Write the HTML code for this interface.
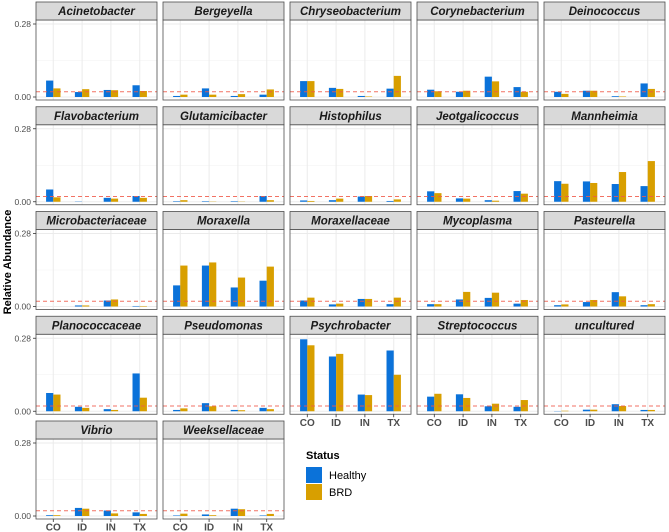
<!DOCTYPE html>
<html><head><meta charset="utf-8">
<style>
html,body{margin:0;padding:0;background:#fff;}
svg{display:block;font-family:"Liberation Sans",Arial,sans-serif;}
</style></head>
<body>
<svg id="chart" width="669" height="532" viewBox="0 0 669 532"></svg>
<script>
const taxa = ["Acinetobacter","Bergeyella","Chryseobacterium","Corynebacterium","Deinococcus",
"Flavobacterium","Glutamicibacter","Histophilus","Jeotgalicoccus","Mannheimia",
"Microbacteriaceae","Moraxella","Moraxellaceae","Mycoplasma","Pasteurella",
"Planococcaceae","Pseudomonas","Psychrobacter","Streptococcus","uncultured",
"Vibrio","Weeksellaceae"];
const states = ["CO","ID","IN","TX"];
const healthy = [
[0.063,0.019,0.027,0.045],[0.004,0.033,0.004,0.009],[0.061,0.035,0.004,0.032],[0.028,0.020,0.078,0.038],[0.020,0.024,0.003,0.052],
[0.047,0.001,0.015,0.022],[0.002,0.002,0.002,0.022],[0.005,0.006,0.020,0.003],[0.040,0.013,0.006,0.041],[0.079,0.078,0.068,0.060],
[0.000,0.004,0.023,0.002],[0.081,0.157,0.073,0.099],[0.023,0.008,0.029,0.009],[0.009,0.027,0.033,0.011],[0.005,0.017,0.055,0.005],
[0.070,0.017,0.008,0.145],[0.005,0.031,0.005,0.013],[0.276,0.210,0.064,0.233],[0.056,0.065,0.019,0.017],[0.001,0.006,0.027,0.005],
[0.003,0.031,0.021,0.014],[0.002,0.006,0.028,0.002]];
const brd = [
[0.033,0.030,0.026,0.023],[0.009,0.009,0.011,0.029],[0.061,0.031,0.002,0.081],[0.022,0.024,0.060,0.020],[0.012,0.024,0.002,0.031],
[0.017,0.000,0.012,0.015],[0.006,0.001,0.001,0.006],[0.003,0.012,0.022,0.009],[0.033,0.012,0.004,0.031],[0.069,0.072,0.114,0.156],
[0.000,0.004,0.027,0.002],[0.157,0.169,0.111,0.153],[0.034,0.011,0.029,0.034],[0.009,0.056,0.053,0.025],[0.008,0.025,0.039,0.009],
[0.064,0.013,0.005,0.052],[0.011,0.019,0.004,0.008],[0.253,0.220,0.062,0.140],[0.067,0.051,0.029,0.043],[0.002,0.006,0.020,0.005],
[0.003,0.028,0.010,0.008],[0.009,0.003,0.026,0.008]];
const yTicks = [0, 0.28];
const yTickLabels = ["0.00","0.28"];
const threshold = 0.02;

const NS="http://www.w3.org/2000/svg";
const svg=document.getElementById('chart');
function mk(tag,attrs,parent){const e=document.createElementNS(NS,tag);for(const k in attrs)e.setAttribute(k,attrs[k]);(parent||svg).appendChild(e);return e;}
const colX=[36,163,290,417,544], PW=121, pitch=104.75, STRIP=18, PH=80;
const cBlue="#0b72d9", cGold="#d89f00";
function yScale(top,v){return top+77-v*(73/0.28);}
function xScale(left,i){return left+(0.6+i)*(PW/4.2);}
const unit=PW/4.2, barW=unit*0.25;

taxa.forEach((name,idx)=>{
  const r=Math.floor(idx/5), c=idx%5;
  const left=colX[c], top=2+r*pitch, ptop=top+STRIP;
  const g=mk('g',{});
  
  
  mk('rect',{x:left,y:ptop,width:PW,height:PH,fill:'#fff'},g);
  [0.14].forEach(v=>mk('line',{x1:left,x2:left+PW,y1:yScale(ptop,v),y2:yScale(ptop,v),stroke:'#f2f2f2','stroke-width':0.6},g));
  yTicks.forEach(v=>mk('line',{x1:left,x2:left+PW,y1:yScale(ptop,v),y2:yScale(ptop,v),stroke:'#ebebeb','stroke-width':1},g));
  states.forEach((s,i)=>mk('line',{x1:xScale(left,i),x2:xScale(left,i),y1:ptop,y2:ptop+PH,stroke:'#ebebeb','stroke-width':1},g));
  states.forEach((s,i)=>{
    const cx=xScale(left,i), y0=yScale(ptop,0);
    const hb=mk('rect',{x:cx-barW,y:yScale(ptop,healthy[idx][i]),width:barW,height:Math.max(0,y0-yScale(ptop,healthy[idx][i])),fill:cBlue},g);
    
    
    const bb=mk('rect',{x:cx,y:yScale(ptop,brd[idx][i]),width:barW,height:Math.max(0,y0-yScale(ptop,brd[idx][i])),fill:cGold},g);
    
    
  });
  const th=mk('line',{x1:left,x2:left+PW,y1:yScale(ptop,threshold),y2:yScale(ptop,threshold),stroke:'#f05a4a','stroke-width':1,'stroke-dasharray':'4,3',opacity:0.85},g);
  
  
  mk('rect',{x:left,y:ptop,width:PW,height:PH,fill:'none',stroke:'#4d4d4d','stroke-width':0.8},g);
  mk('rect',{x:left,y:top,width:PW,height:STRIP,fill:'#d9d9d9',stroke:'#4d4d4d','stroke-width':0.8},g);
  const st=mk('text',{x:left+PW/2,y:top+13,'text-anchor':'middle','font-size':'11.5','font-weight':'bold','font-style':'italic',fill:'#1a1a1a'},g);
  st.textContent=name;
  
  
  if(c===0){
    yTicks.forEach((v,k)=>{
      const y=yScale(ptop,v);
      mk('line',{x1:33,x2:36,y1:y,y2:y,stroke:'#333','stroke-width':0.8},g);
      const t=mk('text',{x:31,y:y+3,'text-anchor':'end','font-size':'8.5',fill:'#4d4d4d'},g);
      t.textContent=yTickLabels[k];
      
      
    });
  }
  const isBottom = idx+5>=taxa.length;
  if(isBottom){
    states.forEach((s,i)=>{
      const x=xScale(left,i), yb=ptop+PH;
      mk('line',{x1:x,x2:x,y1:yb,y2:yb+3,stroke:'#333','stroke-width':0.8},g);
      const t=mk('text',{x:x,y:yb+11.5,'text-anchor':'middle','font-size':'10','font-weight':'bold',fill:'#4d4d4d'},g);
      t.textContent=s;
      
      
    });
  }
});
const yt=mk('text',{x:0,y:0,transform:'translate(11,262) rotate(-90)','text-anchor':'middle','font-size':'11','font-weight':'bold',fill:'#000'});
yt.textContent='Relative Abundance';


const lg=mk('g',{});


const lt=mk('text',{x:306,y:459,'font-size':'11','font-weight':'bold',fill:'#000'},lg);
lt.textContent='Status';
[['Healthy',cBlue,467],['BRD',cGold,484]].forEach(([lab,col,y])=>{
  const e=mk('g',{},lg);
  
  
  mk('rect',{x:306,y:y,width:16,height:16,fill:col},e);
  const t=mk('text',{x:329,y:y+12,'font-size':'11',fill:'#000'},e);
  t.textContent=lab;
});
</script>
</body></html>
